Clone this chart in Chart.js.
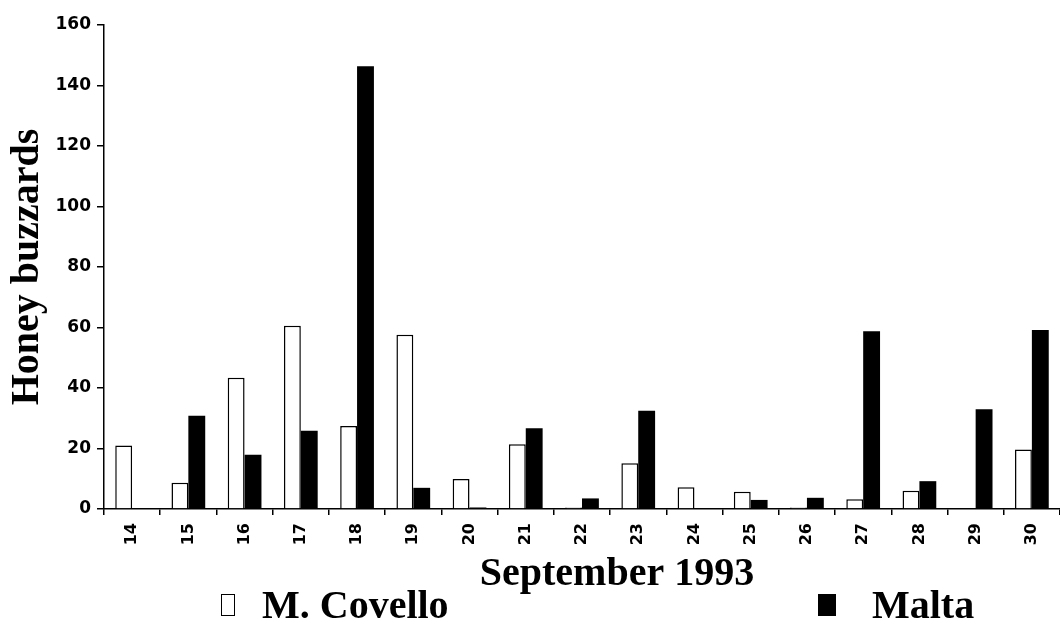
<!DOCTYPE html>
<html>
<head>
<meta charset="utf-8">
<script src="https://cdn.jsdelivr.net/npm/chart.js@4.4.1/dist/chart.umd.min.js"></script>
<style>
  html, body { margin: 0; padding: 0; background: #ffffff; }
  #wrap { position: relative; width: 1060px; height: 626px; overflow: hidden; background: #fff; }
  canvas { position: absolute; left: 0; top: 0; }
  .lg { position: absolute; font-family: 'Liberation Serif', 'Times New Roman', serif; font-weight: bold; font-size: 40px; line-height: 40px; color: #000; white-space: nowrap; }
  .box { position: absolute; box-sizing: border-box; }
</style>
</head>
<body>
<div id="wrap">
  <canvas id="c" width="1060" height="626"></canvas>
  <div class="box" style="left:221px;top:594px;width:14px;height:22px;border:1.5px solid #000;background:#fff;"></div>
  <div class="lg" style="left:262px;top:585px;">M. Covello</div>
  <div class="box" style="left:818px;top:594px;width:18px;height:22px;background:#000;"></div>
  <div class="lg" style="left:872px;top:585px;">Malta</div>
</div>
<script>
// Days of September 1993
const days = ['14','15','16','17','18','19','20','21','22','23','24','25','26','27','28','29','30'];
// Honey buzzards counted at M. Covello
const covello = [21, 8.7, 43.4, 60.6, 27.4, 57.6, 9.9, 21.4, 0.5, 15.1, 7.2, 5.7, 0.5, 3.2, 6.0, 0.3, 19.7];
// Honey buzzards counted at Malta
const malta = [0, 30.8, 17.9, 25.9, 146.4, 7.0, 0.5, 26.7, 3.5, 32.5, 0, 3.0, 3.7, 58.8, 9.2, 33.0, 59.2];
// Y tick values
const yTicks = [0, 20, 40, 60, 80, 100, 120, 140, 160];
const seriesNames = ['M. Covello', 'Malta'];
const xTitle = 'September 1993';
const yTitle = 'Honey buzzards';

const tickFont = { family: "'DejaVu Sans', sans-serif", size: 17, weight: 'bold' };
const titleFont = { family: "'Liberation Serif', 'Times New Roman', serif", size: 40, weight: 'bold' };

new Chart(document.getElementById('c'), {
  type: 'bar',
  data: {
    labels: days,
    datasets: [
      { label: seriesNames[0], data: covello, backgroundColor: '#ffffff', borderColor: '#000000', borderWidth: 1.5, categoryPercentage: 0.6, barPercentage: 1.0 },
      { label: seriesNames[1], data: malta, backgroundColor: '#000000', borderColor: '#000000', borderWidth: 0, categoryPercentage: 0.6, barPercentage: 1.0 }
    ]
  },
  options: {
    responsive: false,
    animation: false,
    devicePixelRatio: 1,
    layout: { padding: { top: 25, right: -4, left: 0, bottom: 27 } },
    plugins: { legend: { display: false }, tooltip: { enabled: false } },
    scales: {
      x: {
        grid: { display: true, drawOnChartArea: false, drawTicks: true, tickLength: 6, color: '#000', lineWidth: 1.5 },
        border: { display: true, color: '#000', width: 1.5 },
        ticks: { color: '#000', font: { family: "'DejaVu Sans', sans-serif", size: 16, weight: 'bold' }, minRotation: 90, maxRotation: 90, padding: 8, autoSkip: false },
        title: { display: true, text: '\u00A0\u00A0\u00A0\u00A0\u00A0\u00A0\u00A0' + xTitle, color: '#000', font: titleFont, padding: { top: 0, bottom: 0 } },
        afterFit: (s) => { s.height = 90; }
      },
      y: {
        min: 0, max: 160,
        afterBuildTicks: (s) => { s.ticks = yTicks.map(v => ({ value: v })); },
        grid: { display: true, drawOnChartArea: false, drawTicks: true, tickLength: 7, color: '#000', lineWidth: 1.5 },
        border: { display: true, color: '#000', width: 1.5 },
        ticks: { color: '#000', font: tickFont, padding: 6 },
        title: { display: true, text: yTitle, color: '#000', font: titleFont, padding: { top: 4, bottom: 0 } },
        afterFit: (s) => { s.width = 104; }
      }
    }
  }
});
</script>
</body>
</html>
